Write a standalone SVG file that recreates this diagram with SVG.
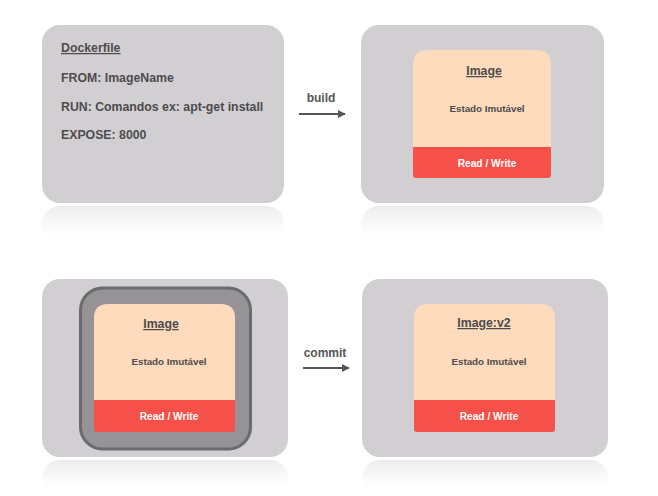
<svg xmlns="http://www.w3.org/2000/svg" width="658" height="496" viewBox="0 0 658 496">
<defs>
<linearGradient id="refl" x1="0" y1="0" x2="0" y2="1">
<stop offset="0" stop-color="#ebe9eb" stop-opacity="0.9"/>
<stop offset="1" stop-color="#ffffff" stop-opacity="0"/>
</linearGradient>
<marker id="arr" viewBox="0 0 10 10" refX="9" refY="5" markerWidth="4" markerHeight="4" orient="auto">
<path d="M0,0 L10,5 L0,10 Z" fill="#555"/>
</marker>
<style>
.box{fill:#d2cfd2}
.refl{fill:url(#refl)}
.peach{fill:#fddbbc}
.red{fill:#f6504a}
.t{font-family:"Liberation Sans",Arial,sans-serif;font-weight:bold;fill:#4d4b4d}
.h{font-size:12.3px;text-decoration:underline}
.df{font-size:12.3px}
.st{font-size:9.8px;text-anchor:middle}
.rw{font-family:"Liberation Sans",Arial,sans-serif;font-weight:bold;font-size:10.2px;fill:#ffffff;text-anchor:middle}
.lbl{font-family:"Liberation Sans",Arial,sans-serif;font-weight:bold;font-size:12px;fill:#555;text-anchor:middle}
.c{stroke:#555;stroke-width:2;fill:none;marker-end:url(#arr)}
</style>
</defs>
<rect width="658" height="496" fill="#ffffff"/>

<g id="dockerfile">
<rect class="refl" x="42" y="206" width="242" height="38" rx="18"/>
<rect class="box" x="42" y="25" width="242" height="178" rx="18"/>
<text class="t h" x="61" y="52">Dockerfile</text>
<text class="t df" x="61" y="82">FROM: ImageName</text>
<text class="t df" x="61" y="111">RUN: Comandos ex: apt-get install</text>
<text class="t df" x="61" y="139">EXPOSE: 8000</text>
</g>

<g id="image1">
<rect class="refl" x="361" y="206" width="243" height="38" rx="18"/>
<rect class="box" x="361" y="25" width="243" height="178" rx="18"/>
<path class="peach" d="M413,147 V65 Q413,50 428,50 H536 Q551,50 551,65 V147 Z"/>
<path class="red" d="M413,147 H551 V175 Q551,178 548,178 H416 Q413,178 413,175 Z"/>
<text class="t h" x="484" y="75" text-anchor="middle">Image</text>
<text class="t st" x="487" y="112">Estado Imutável</text>
<text class="rw" x="487" y="167">Read / Write</text>
</g>

<g id="container">
<rect class="refl" x="42" y="460" width="246" height="36" rx="18"/>
<rect class="box" x="42" y="279" width="246" height="178" rx="18"/>
<rect x="80.5" y="288" width="170" height="161" rx="22" fill="#959396" stroke="#6b6a6c" stroke-width="3"/>
<path class="peach" d="M94,400 V318 Q94,304 108,304 H221 Q235,304 235,318 V400 Z"/>
<path class="red" d="M94,400 H235 V429 Q235,432 232,432 H97 Q94,432 94,429 Z"/>
<text class="t h" x="161" y="328" text-anchor="middle">Image</text>
<text class="t st" x="169" y="365">Estado Imutável</text>
<text class="rw" x="169" y="420">Read / Write</text>
</g>

<g id="image2">
<rect class="refl" x="362" y="460" width="246" height="36" rx="18"/>
<rect class="box" x="362" y="279" width="246" height="178" rx="18"/>
<path class="peach" d="M414,400 V318 Q414,304 428,304 H541 Q555,304 555,318 V400 Z"/>
<path class="red" d="M414,400 H555 V429 Q555,432 552,432 H417 Q414,432 414,429 Z"/>
<text class="t h" x="484" y="327" text-anchor="middle">Image:v2</text>
<text class="t st" x="489" y="365">Estado Imutável</text>
<text class="rw" x="489" y="420">Read / Write</text>
</g>

<g id="connectors">
<text class="lbl" x="321" y="102">build</text>
<line class="c" x1="299" y1="114" x2="345" y2="114"/>
<text class="lbl" x="325" y="357">commit</text>
<line class="c" x1="303" y1="368" x2="349" y2="368"/>
</g>
</svg>
